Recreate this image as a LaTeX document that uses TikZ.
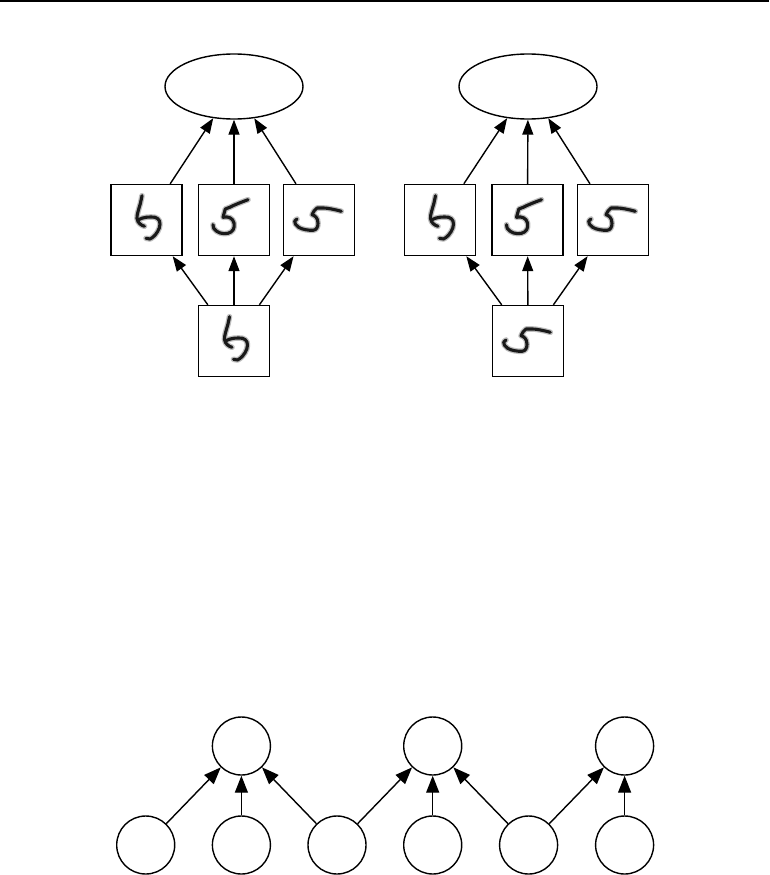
\documentclass[tikz,border=0pt]{standalone}
\usetikzlibrary{arrows.meta,shapes.geometric}
\begin{document}
\begin{tikzpicture}[x=1pt,y=-1pt,
  imgbox/.style={draw,line width=1.4pt,minimum size=71pt,inner sep=0pt,fill=white},
  cls/.style={draw,ellipse,line width=1.4pt,minimum width=138pt,minimum height=65pt,inner sep=0pt},
  var/.style={draw,circle,line width=1.4pt,minimum size=58pt,inner sep=0pt},
  arr/.style={line width=1.4pt,-{Triangle[length=15pt,width=11pt]}},
  arrb/.style={line width=1.4pt,-{Triangle[length=17pt,width=13pt]}},
  inkhalo/.style={draw=black!25,line width=5.6pt,line cap=round,line join=round},
  ink/.style={draw=black!90,line width=3.1pt,line cap=round,line join=round},
  % handwritten digit strokes, coordinates relative to the box centre
  glyphsix/.pic={
    \foreach \s in {inkhalo,ink}{
      \path[\s] (-4.5,-24.3) -- (-6,-17) .. controls (-8,-10) and (-9.8,-5) .. (-9.5,-1.5)
            .. controls (-9,3) and (-5,5.5) .. (-2,6.3);
      \path[\s] (-8.5,0) .. controls (-4,-3) and (4,-3.5) .. (8.5,-2.7)
            .. controls (13,-1.5) and (14.5,2.5) .. (12.8,8)
            .. controls (11,13) and (7,17.5) .. (3.5,19)
            -- (-0.5,18.3);
    }
  },
  glyphfivea/.pic={
    \foreach \s in {inkhalo,ink}{
      \path[\s] (14,-20.3) .. controls (9,-18.5) and (0,-15) .. (-4.3,-12.7)
            -- (-8.7,-11) -- (-11,-2.7)
            .. controls (-6,-4) and (-1,-2) .. (0,3)
            .. controls (1,8) and (-1,12) .. (-6,13.3)
            .. controls (-11,14.5) and (-17,13) .. (-20.3,8.3)
            -- (-21,4.7);
    }
  },
  glyphfiveb/.pic={
    \foreach \s in {inkhalo,ink}{
      \path[\s] (22.3,-8.7) .. controls (16,-10.5) and (8,-12) .. (4.7,-12)
            -- (-2,-12)
            .. controls (-4,-10.5) and (-6,-8) .. (-7,-5.3)
            .. controls (-4,-4.5) and (-1,-2) .. (-1,3.3)
            .. controls (-1,7) and (-2.5,10) .. (-6,10.3)
            .. controls (-10,10.5) and (-17,9.5) .. (-20.3,7.3)
            .. controls (-23,5.5) and (-25,3) .. (-24.3,1)
            -- (-22,-1);
    }
  }
]
\useasboundingbox (0,0) rectangle (769,875);

% rule across the top
\draw[line width=1.5pt] (0,0.8) -- (769,0.8);

% ---- left panel ----
\node[cls] (Le) at (234,86.5) {};
\node[imgbox] (La) at (146.5,220) {};
\node[imgbox] (Lb) at (234,220) {};
\node[imgbox] (Lc) at (319,220) {};
\node[imgbox] (Ld) at (234,341) {};
\pic at (La) {glyphsix};
\pic at (Lb) {glyphfivea};
\pic at (Lc) {glyphfiveb};
\pic at (Ld) {glyphsix};
\draw[arr] (La) -- (Le);
\draw[arr] (Lb) -- (Le);
\draw[arr] (Lc) -- (Le);
\draw[arr] (Ld) -- (La);
\draw[arr] (Ld) -- (Lb);
\draw[arr] (Ld) -- (Lc);

% ---- right panel ----
\node[cls] (Re) at (528,86.5) {};
\node[imgbox] (Ra) at (440,220) {};
\node[imgbox] (Rb) at (527.5,220) {};
\node[imgbox] (Rc) at (613,220) {};
\node[imgbox] (Rd) at (528,341) {};
\pic at (Ra) {glyphsix};
\pic at (Rb) {glyphfivea};
\pic at (Rc) {glyphfiveb};
\pic at (Rd) {glyphfiveb};
\draw[arr] (Ra) -- (Re);
\draw[arr] (Rb) -- (Re);
\draw[arr] (Rc) -- (Re);
\draw[arr] (Rd) -- (Ra);
\draw[arr] (Rd) -- (Rb);
\draw[arr] (Rd) -- (Rc);

% ---- chain of variables ----
\node[var] (t1) at (241.4,746) {};
\node[var] (t2) at (432.7,746) {};
\node[var] (t3) at (624.6,746) {};
\node[var] (b1) at (145.7,845) {};
\node[var] (b2) at (241.4,845) {};
\node[var] (b3) at (337,845) {};
\node[var] (b4) at (432.7,845) {};
\node[var] (b5) at (528.6,845) {};
\node[var] (b6) at (624.6,845) {};
\draw[arrb] (b1) -- (t1);
\draw[arrb] (b2) -- (t1);
\draw[arrb] (b3) -- (t1);
\draw[arrb] (b3) -- (t2);
\draw[arrb] (b4) -- (t2);
\draw[arrb] (b5) -- (t2);
\draw[arrb] (b5) -- (t3);
\draw[arrb] (b6) -- (t3);
\end{tikzpicture}
\end{document}
